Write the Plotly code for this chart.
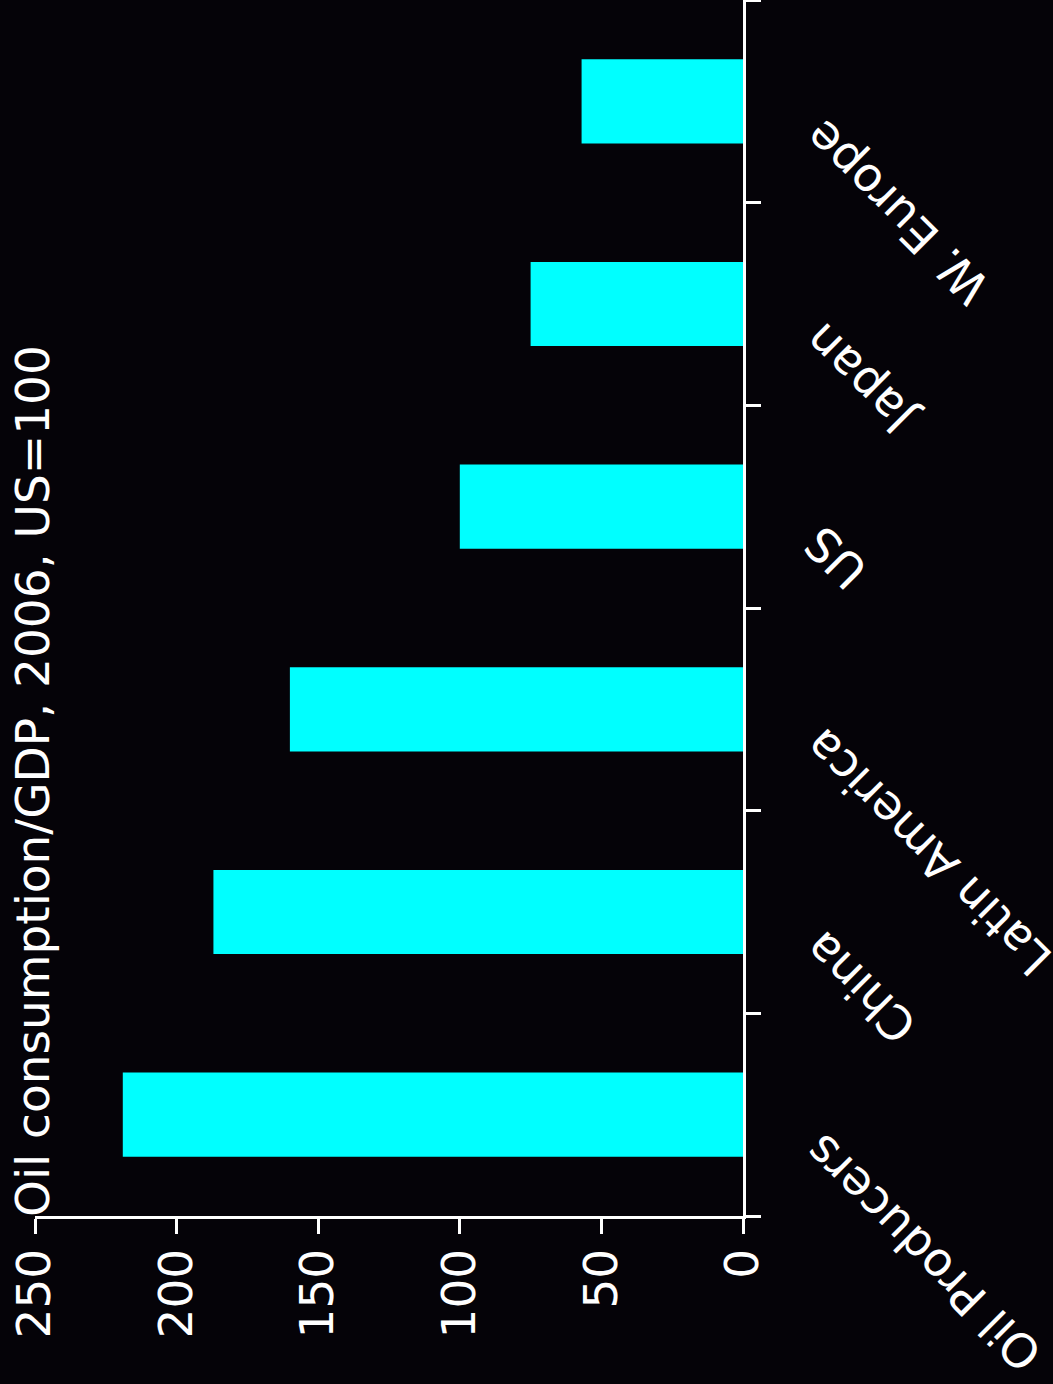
import plotly.graph_objects as go

categories = ["Oil Producers", "China", "Latin America", "US", "Japan", "W. Europe"]
values = [219, 187, 160, 100, 75, 57]
value_ticks = [0, 50, 100, 150, 200, 250]
axis_title = "Oil consumption/GDP, 2006, US=100"

BG = "#050308"
FG = "white"
FONT = "DejaVu Sans"
FS = 47

fig = go.Figure()
fig.add_trace(go.Bar(
    x=values, y=categories, orientation="h",
    marker=dict(color="#00FFFF", line=dict(width=0)),
))

annotations = []
for c in categories:
    annotations.append(dict(
        text=c, x=1, y=c, xref="paper", yref="y",
        xanchor="left", yanchor="top", xshift=48, yshift=-6,
        textangle=-135, showarrow=False,
        font=dict(family=FONT, size=FS, color=FG),
    ))
annotations.append(dict(
    text=axis_title, x=0, y=0, xref="paper", yref="paper",
    xanchor="center", yanchor="bottom", xshift=-3, yshift=-3,
    textangle=-90, showarrow=False,
    font=dict(family=FONT, size=FS, color=FG),
))

fig.update_layout(
    width=1053, height=1384,
    margin=dict(l=35, r=310, t=0, b=168),
    paper_bgcolor=BG, plot_bgcolor=BG,
    showlegend=False, bargap=0.585,
    font=dict(family=FONT, size=FS, color=FG),
    annotations=annotations,
    xaxis=dict(
        range=[250, 0], tickvals=value_ticks, ticktext=[str(v) for v in value_ticks],
        tickangle=-90, ticks="outside", ticklen=15, tickwidth=3, tickcolor=FG,
        showline=True, linecolor=FG, linewidth=3, showgrid=False, zeroline=False,
        tickfont=dict(family=FONT, size=FS, color=FG), ticklabelstandoff=-4,
    ),
    yaxis=dict(
        side="right", categoryorder="array", categoryarray=categories,
        range=[-0.5, len(categories) - 0.5], autorange=False,
        ticks="outside", tickson="boundaries", ticklen=15, tickwidth=3, tickcolor=FG,
        showline=True, linecolor=FG, linewidth=3, showgrid=False, zeroline=False,
        showticklabels=False,
    ),
)

fig.write_html(
    "out.html",
    config={"displayModeBar": False},
    post_script="document.body.style.margin='0';document.body.style.background='%s';" % BG,
)
